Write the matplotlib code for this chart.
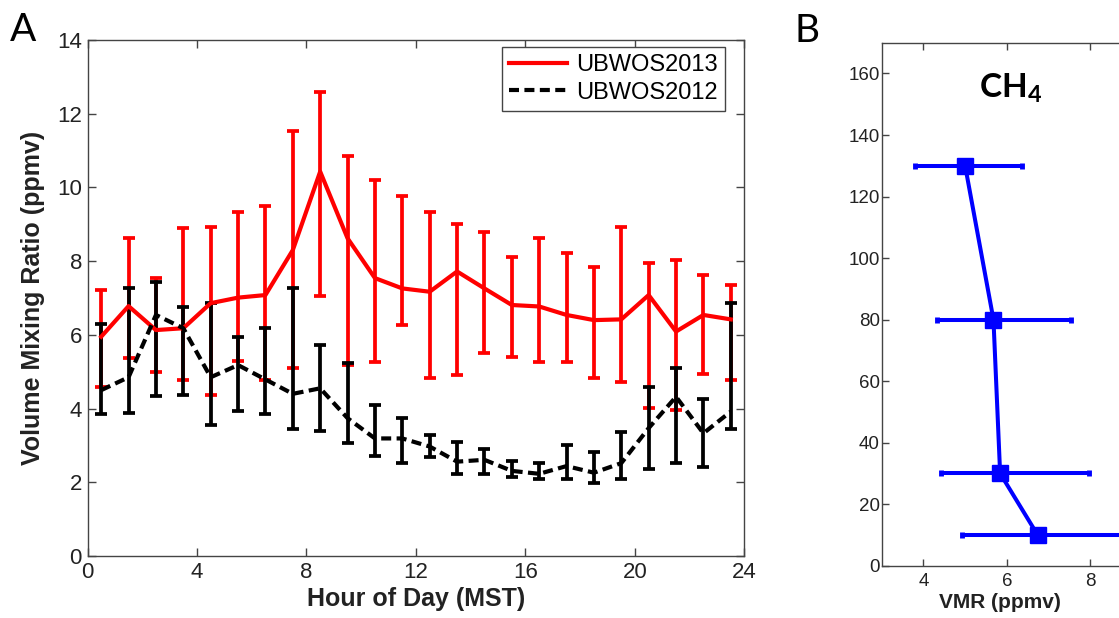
import numpy as np
import matplotlib
matplotlib.use('Agg')
import matplotlib.pyplot as plt

plt.rcParams['font.family'] = ['Liberation Sans', 'DejaVu Sans']
plt.rcParams['mathtext.fontset'] = 'custom'
plt.rcParams['mathtext.rm'] = 'Lato'
plt.rcParams['mathtext.bf'] = 'Lato:bold'

# Panel A data (hour of day, volume mixing ratio in ppmv)
hours = [0.5, 1.5, 2.5, 3.5, 4.5, 5.5, 6.5, 7.5, 8.5, 9.5, 10.5, 11.5,
         12.5, 13.5, 14.5, 15.5, 16.5, 17.5, 18.5, 19.5, 20.5, 21.5, 22.5, 23.5]

ubwos2013_mean = [5.95, 6.78, 6.13, 6.18, 6.86, 7.01, 7.08, 8.30, 10.43, 8.62, 7.54, 7.26,
                  7.17, 7.72, 7.26, 6.81, 6.77, 6.54, 6.40, 6.42, 7.08, 6.09, 6.54, 6.42]
ubwos2013_high = [7.22, 8.62, 7.53, 8.89, 8.92, 9.33, 9.50, 11.54, 12.60, 10.84, 10.19, 9.78,
                  9.34, 9.01, 8.80, 8.11, 8.62, 8.23, 7.85, 8.92, 7.94, 8.03, 7.63, 7.35]
ubwos2013_low = [4.58, 5.36, 4.99, 4.78, 4.37, 5.30, 4.78, 5.11, 7.06, 5.18, 5.27, 6.27,
                 4.82, 4.91, 5.50, 5.41, 5.27, 5.27, 4.82, 4.73, 4.01, 3.96, 4.94, 4.78]

ubwos2012_mean = [4.50, 4.85, 6.54, 6.18, 4.85, 5.18, 4.79, 4.40, 4.55, 3.74, 3.19, 3.19,
                  2.97, 2.56, 2.61, 2.31, 2.23, 2.44, 2.26, 2.52, 3.47, 4.32, 3.33, 3.92]
ubwos2012_high = [6.30, 7.26, 7.44, 6.75, 6.86, 5.93, 6.18, 7.26, 5.73, 5.23, 4.10, 3.74,
                  3.28, 3.10, 2.90, 2.59, 2.53, 3.01, 2.83, 3.37, 4.59, 5.09, 4.25, 6.86]
ubwos2012_low = [3.85, 3.87, 4.34, 4.37, 3.55, 3.94, 3.85, 3.44, 3.39, 3.06, 2.71, 2.52,
                 2.68, 2.23, 2.23, 2.14, 2.08, 2.08, 1.99, 2.09, 2.35, 2.52, 2.42, 3.44]

# Panel B data (CH4 vertical profile)
ch4_vmr = [5.0, 5.68, 5.84, 6.74]
ch4_alt = [130, 80, 30, 10]
ch4_low = [3.80, 4.32, 4.42, 4.92]
ch4_high = [6.37, 7.54, 7.98, 9.2]

spine_col = '#444444'
text_col = '#222222'

fig = plt.figure(figsize=(11.19, 6.18), dpi=100)

# ---- panel A ----
axA = fig.add_axes([0.0782, 0.1003, 0.5871, 0.835])

m13 = np.array(ubwos2013_mean)
e13 = [m13 - np.array(ubwos2013_low), np.array(ubwos2013_high) - m13]
m12 = np.array(ubwos2012_mean)
e12 = [m12 - np.array(ubwos2012_low), np.array(ubwos2012_high) - m12]

r = axA.errorbar(hours, m13, yerr=e13, color='#ff0000', lw=3.0, elinewidth=2.7,
                 capsize=4.3, capthick=2.7, label='UBWOS2013')
b = axA.errorbar(hours, m12, yerr=e12, color='black', lw=3.0, elinewidth=2.7,
                 capsize=4.3, capthick=2.7, label='UBWOS2012')
b.lines[0].set_dashes([2.4, 1.3])

axA.set_xlim(0, 24)
axA.set_ylim(0, 14)
axA.set_xticks([0, 4, 8, 12, 16, 20, 24])
axA.set_yticks([0, 2, 4, 6, 8, 10, 12, 14])
axA.tick_params(direction='in', top=True, right=True, length=6, width=1,
                color=spine_col, labelsize=16, labelcolor=text_col, pad=4)
for s in axA.spines.values():
    s.set_color(spine_col)
    s.set_linewidth(1)
axA.set_xlabel('Hour of Day (MST)', fontsize=18, fontweight='bold', labelpad=3, color=text_col)
axA.set_ylabel('Volume Mixing Ratio (ppmv)', fontsize=18, fontweight='bold', labelpad=9, color=text_col)

leg = axA.legend([r.lines[0], b.lines[0]], ['UBWOS2013', 'UBWOS2012'],
                 loc='upper right', bbox_to_anchor=(0.9703, 0.987), borderaxespad=0,
                 fontsize=17, handlelength=2.45, handletextpad=0.4, labelspacing=0.25,
                 borderpad=0.3, fancybox=False, framealpha=1, edgecolor=spine_col)
leg.get_frame().set_linewidth(1)

fig.text(23 / 1119, 1 - 30 / 618, 'A', fontsize=28, family=['Lato', 'DejaVu Sans'],
         ha='center', va='center', color='black')

# ---- panel B (cut off at the right edge, like the source figure) ----
axB = fig.add_axes([0.788, 0.0846, 0.2607, 0.8463])
pv = np.array(ch4_vmr)
ex = [pv - np.array(ch4_low), np.array(ch4_high) - pv]
axB.errorbar(ch4_vmr, ch4_alt, xerr=ex, color='#0000ff', lw=2.9, elinewidth=2.9,
             marker='s', markersize=12, capsize=2.3, capthick=3.5)
axB.set_xlim(3, 10)
axB.set_ylim(0, 170)
axB.set_xticks([4, 6, 8])
axB.set_yticks(range(0, 161, 20))
axB.tick_params(direction='in', top=True, right=True, length=5, width=1,
                color=spine_col, labelsize=13.5, labelcolor=text_col)
axB.tick_params(axis='x', pad=5.5)
axB.tick_params(axis='y', pad=1.5)
for s in axB.spines.values():
    s.set_color(spine_col)
    s.set_linewidth(1)
axB.set_xlabel('VMR (ppmv)', fontsize=15, fontweight='bold', labelpad=1, color=text_col)
axB.xaxis.set_label_coords((1000 - 881.7) / 291.7, -0.052)
axB.text(0.334, 0.894, r'$\mathbf{CH_4}$', transform=axB.transAxes, fontsize=24,
         ha='left', va='baseline', color='black')

fig.text(807 / 1119, 1 - 31 / 618, 'B', fontsize=28, family=['Lato', 'DejaVu Sans'],
         ha='center', va='center', color='black')

fig.savefig('out.png', dpi=100)
